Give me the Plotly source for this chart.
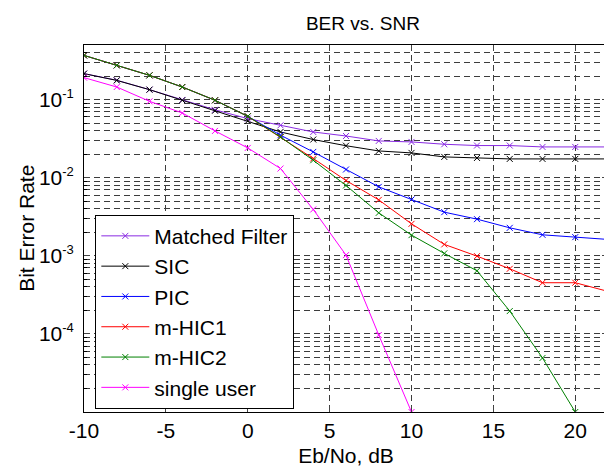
import plotly.graph_objects as go

snr = [-10, -8, -6, -4, -2, 0, 2, 4, 6, 8, 10, 12, 14, 16, 18, 20, 22]

ber_mf = [0.215, 0.177, 0.134, 0.099, 0.074, 0.0571, 0.0469, 0.0385, 0.0342, 0.02955,
          0.0287, 0.0268, 0.0258, 0.0258, 0.02477, 0.02477, 0.02477]
ber_sic = [0.215, 0.176, 0.134, 0.098, 0.072, 0.0532, 0.0385, 0.0308, 0.02566, 0.022,
           0.02076, 0.01845, 0.0179, 0.0174, 0.0174, 0.0174, 0.0174]
ber_pic = [0.368, 0.2746, 0.2045, 0.1449, 0.098, 0.0611, 0.0350, 0.02138, 0.01273, 0.00763,
           0.00526, 0.00362, 0.002946, 0.00228, 0.001856, 0.001734, 0.00162]
ber_hic1 = [0.368, 0.2746, 0.2045, 0.1449, 0.098, 0.0611, 0.0332, 0.0176, 0.00921, 0.0052,
            0.002566, 0.0014, 0.00099, 0.000682, 0.000452, 0.000452, 0.00035]
ber_hic2 = [0.368, 0.2746, 0.2045, 0.1449, 0.098, 0.0611, 0.0332, 0.01674, 0.00795, 0.003548,
            0.00184, 0.001073, 0.000643, 0.000196, 4.92e-5, 1.0e-5]
ber_single = [0.191, 0.1449, 0.0951, 0.0674, 0.0397, 0.02405, 0.0131, 0.00392, 0.00102,
              9.68e-5, 1.0e-5]

series = [
    ("Matched Filter", ber_mf, "#8a2be2"),
    ("SIC", ber_sic, "#000000"),
    ("PIC", ber_pic, "#0000ff"),
    ("m-HIC1", ber_hic1, "#ff0000"),
    ("m-HIC2", ber_hic2, "#008000"),
    ("single user", ber_single, "#ff00ff"),
]

x_ticks = [-10, -5, 0, 5, 10, 15, 20]
x_ticktext = ["-10", "-5", "0", "5", "10", "15", "20"]
y_ticks = [1e-4, 1e-3, 1e-2, 1e-1]
y_exponents = ["-4", "-3", "-2", "-1"]
y_ticktext = ["10<sup><span style='font-size:13px'>%s</span></sup>" % e for e in y_exponents]

FONT = "Arial, Liberation Sans, sans-serif"

fig = go.Figure()
for name, vals, color in series:
    fig.add_trace(go.Scatter(
        x=snr[:len(vals)], y=vals, name=name, mode="lines+markers",
        line=dict(color=color, width=1),
        marker=dict(symbol="x-thin", size=6, line=dict(color=color, width=1)),
    ))

minor_vals = [m * 10.0 ** e for e in range(-5, 0) for m in range(2, 10)]

grid_color = "#3c3c3c"
dash = "6px,4px"

# the page body adds an 8px offset, margins compensate for it
fig.update_layout(
    width=612, height=472,
    margin=dict(l=76, r=12, t=37, b=68),
    paper_bgcolor="white", plot_bgcolor="white",
    font=dict(family=FONT, size=21, color="black"),
    title=dict(text="BER vs. SNR", x=0.58, xanchor="center", y=0.968, yanchor="middle",
               font=dict(size=19, family=FONT)),
    showlegend=True,
    legend=dict(x=0.0216, y=0.009, xanchor="left", yanchor="bottom",
                bgcolor="white", bordercolor="black", borderwidth=1,
                font=dict(size=21, family=FONT), tracegroupgap=0, itemwidth=48),
    xaxis=dict(
        range=[-10, 22], tickvals=x_ticks, ticktext=x_ticktext, ticks="inside", ticklen=6,
        showline=True, linecolor="black", linewidth=1, mirror="allticks",
        showgrid=True, gridcolor=grid_color, griddash=dash, gridwidth=1,
        zeroline=False, tickfont=dict(size=21), automargin=False,
        title=dict(text="Eb/No, dB", font=dict(size=21), standoff=7),
    ),
    yaxis=dict(
        type="log", range=[-5, -0.301], tickvals=y_ticks, ticktext=y_ticktext,
        ticks="inside", ticklen=6, ticklabelstandoff=5,
        showline=True, linecolor="black", linewidth=1, mirror="allticks",
        showgrid=True, gridcolor=grid_color, griddash=dash, gridwidth=1,
        zeroline=False, tickfont=dict(size=21), automargin=False,
        minor=dict(tickmode="array", tickvals=minor_vals, ticks="inside", ticklen=3,
                   tickcolor="black", showgrid=True, gridcolor=grid_color,
                   griddash=dash, gridwidth=1),
    ),
    annotations=[dict(text="Bit Error Rate", textangle=-90, xref="paper", yref="paper",
                      x=-0.11, y=0.5, xanchor="center", yanchor="middle",
                      showarrow=False, font=dict(size=21, family=FONT))],
)

fig.write_html("out.html")
